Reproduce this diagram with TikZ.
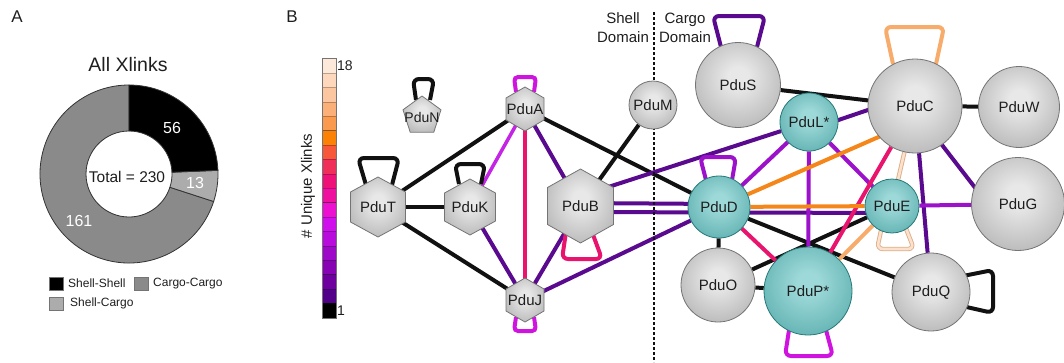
\documentclass[tikz,border=0pt]{standalone}
\usepackage{fontspec}
\setmainfont{Liberation Sans}
\usetikzlibrary{calc,backgrounds}

% link colours (number of unique crosslinks)
\definecolor{lkblack}{HTML}{111111}
\definecolor{lkdark}{HTML}{5A0A8E}
\definecolor{lkviolet}{HTML}{9C12CA}
\definecolor{lklilac}{HTML}{C424E4}
\definecolor{lkmagenta}{HTML}{D014E0}
\definecolor{lkcrimson}{HTML}{E8146E}
\definecolor{lkorange}{HTML}{F5861A}
\definecolor{lklightorange}{HTML}{F7AC6C}
\definecolor{lkpeach}{HTML}{FCE2CE}
\definecolor{lkpeachrim}{HTML}{DDAE88}
% scale bar, 18 down to 1
\definecolor{s18}{HTML}{FDE9DA}
\definecolor{s17}{HTML}{FDD8BD}
\definecolor{s16}{HTML}{FCC6A0}
\definecolor{s15}{HTML}{FBB07A}
\definecolor{s14}{HTML}{FA9A4E}
\definecolor{s13}{HTML}{FB8205}
\definecolor{s12}{HTML}{F8583A}
\definecolor{s11}{HTML}{F02E5A}
\definecolor{s10}{HTML}{EE1278}
\definecolor{s9}{HTML}{F010A0}
\definecolor{s8}{HTML}{EC10D0}
\definecolor{s7}{HTML}{D010EC}
\definecolor{s6}{HTML}{B80CDC}
\definecolor{s5}{HTML}{9E08C8}
\definecolor{s4}{HTML}{8604B4}
\definecolor{s3}{HTML}{6E00A0}
\definecolor{s2}{HTML}{52008A}
\definecolor{s1}{HTML}{000000}
% protein bodies
\definecolor{gb1}{HTML}{E8E8E8}
\definecolor{gb2}{HTML}{8E8E8E}
\definecolor{grim}{HTML}{747474}
\definecolor{tb1}{HTML}{9ED9D9}
\definecolor{tb2}{HTML}{2D9090}
\definecolor{trim}{HTML}{267878}
% donut
\definecolor{ring}{HTML}{333333}
\definecolor{cargocol}{HTML}{8A8A8A}
\definecolor{shellcargocol}{HTML}{ACACAC}
\definecolor{txt}{HTML}{1E1E1E}

\pgfdeclareradialshading{grayball}{\pgfpoint{0bp}{5bp}}{color(0bp)=(gb1); color(6bp)=(gb1); color(52bp)=(gb2); color(75bp)=(gb2)}
\pgfdeclareradialshading{tealball}{\pgfpoint{0bp}{5bp}}{color(0bp)=(tb1); color(6bp)=(tb1); color(52bp)=(tb2); color(75bp)=(tb2)}

\tikzset{
  link/.style={line width=4pt},
  selfloop/.style={line width=4pt, rounded corners=6pt},
  peachlink/.style={draw=lkpeachrim, line width=0.9pt, double=lkpeach, double distance=2.6pt},
  gball/.style={circle, draw=grim, line width=0.8pt, shading=grayball, inner sep=0pt,
                text=txt, font=\fontsize{15}{15}\selectfont},
  tball/.style={gball, draw=trim, shading=tealball},
  hexbody/.style={draw=grim, line width=0.8pt, shading=grayball},
  plabel/.style={inner sep=0pt, text=txt, font=\fontsize{15}{15}\selectfont},
  legendtxt/.style={anchor=west, inner sep=0pt, text=txt, font=\fontsize{12}{12}\selectfont},
  numtxt/.style={text=white, font=\fontsize{16}{16}\selectfont},
}

% hexagon body: centre x, centre y, half width, half height
\newcommand\HexAt[4]{%
  \path[hexbody] ({#1},{#2-#4}) -- ({#1+#3},{#2-0.5*#4}) -- ({#1+#3},{#2+0.5*#4})
    -- ({#1},{#2+#4}) -- ({#1-#3},{#2+0.5*#4}) -- ({#1-#3},{#2-0.5*#4}) -- cycle;}

\begin{document}
\begin{tikzpicture}[x=1pt,y=-1pt]
\useasboundingbox (0,0) rectangle (1064,362);

% ---------------- panel A: donut chart ----------------
\node[text=txt, font=\fontsize{17}{17}\selectfont] (panelA) at (17,17) {A};
\node[text=txt, font=\fontsize{19.5}{20}\selectfont] (title) at (128,65) {All Xlinks};

\begin{scope}[shift={(129,174)}, y=1pt]
  \filldraw[fill=cargocol, draw=ring, line width=0.8pt]
    (-18:89) arc[start angle=-18, end angle=-270, radius=89]
    -- (-270:43) arc[start angle=-270, end angle=-18, radius=43] -- cycle;
  \filldraw[fill=shellcargocol, draw=ring, line width=0.8pt]
    (2.35:89) arc[start angle=2.35, end angle=-18, radius=89]
    -- (-18:43) arc[start angle=-18, end angle=2.35, radius=43] -- cycle;
  \filldraw[fill=black, draw=ring, line width=0.8pt]
    (90:89) arc[start angle=90, end angle=2.35, radius=89]
    -- (2.35:43) arc[start angle=2.35, end angle=90, radius=43] -- cycle;
  \node[numtxt] (n56) at (43,46) {56};
  \node[numtxt] (n13) at (66,-9) {13};
  \node[numtxt] (n161) at (-50,-47) {161};
  \node[text=txt, font=\fontsize{15.5}{16}\selectfont] (total) at (-2,-3) {Total = 230};
\end{scope}

% legend
\filldraw[fill=black, draw=grim, line width=0.6pt] (49,277) rectangle (63,290);
\node[legendtxt] (lgA) at (68,283.5) {Shell-Shell};
\filldraw[fill=cargocol, draw=grim, line width=0.6pt] (134,277) rectangle (148,290);
\node[legendtxt] (lgB) at (153,283.5) {Cargo-Cargo};
\filldraw[fill=shellcargocol, draw=grim, line width=0.6pt] (49,297) rectangle (63,310);
\node[legendtxt] (lgC) at (70,303.5) {Shell-Cargo};

% ---------------- panel B: crosslink network ----------------
\node[text=txt, font=\fontsize{17}{17}\selectfont] (panelB) at (292,17) {B};

% scale bar
\foreach \c [count=\i from 0] in {s18,s17,s16,s15,s14,s13,s12,s11,s10,s9,s8,s7,s6,s5,s4,s3,s2,s1}
  \filldraw[fill=\c, draw=black, draw opacity=0.25, line width=0.5pt]
    (322,{58.6+\i*14.4}) rectangle (336,{58.6+(\i+1)*14.4});
\draw[grim, line width=0.6pt] (322,58.6) rectangle (336,317.8);
\node[anchor=west, inner sep=0pt, text=txt, font=\fontsize{14}{14}\selectfont] (top18) at (337,66) {18};
\node[anchor=west, inner sep=0pt, text=txt, font=\fontsize{14}{14}\selectfont] (bot1) at (337,311) {1};
\node[rotate=90, text=txt, font=\fontsize{15}{15}\selectfont] (barlabel) at (308,186) {\# Unique Xlinks};

% domain divider
\draw[lkblack, line width=1.4pt, dash pattern=on 3pt off 2pt] (654,12) -- (654,362);
\node[align=center, text=txt, font=\fontsize{15}{19}\selectfont] (shelldom) at (623,27.5) {Shell\\Domain};
\node[align=center, text=txt, font=\fontsize{15}{19}\selectfont] (cargodom) at (685,27.5) {Cargo\\Domain};

% shell proteins (hexagons, pentagon)
\HexAt{378}{207}{27.5}{30}
\HexAt{470}{207}{25.5}{28}
\HexAt{525}{109}{19}{22}
\HexAt{525}{300}{19}{22}
\HexAt{580.5}{206}{33}{37}
\path[hexbody] (422,96) -- (441,109.8) -- (433.8,132.2) -- (410.2,132.2) -- (403,109.8) -- cycle;
\node[plabel] (T) at (378,207) {PduT};
\node[plabel] (K) at (470,207) {PduK};
\node[plabel] (A) at (525,109) {PduA};
\node[plabel] (J) at (525,300) {PduJ};
\node[plabel] (B) at (580.5,206) {PduB};
\node[plabel, font=\fontsize{14}{14}\selectfont] (N) at (422,117) {PduN};

% shell / cargo proteins (spheres)
\node[gball, minimum size=48pt] (M) at (653,105) {PduM};
\node[gball, minimum size=85pt] (S) at (738,85) {PduS};
\node[gball, minimum size=94pt] (C) at (915,106) {PduC};
\node[gball, minimum size=81pt] (W) at (1019,107) {PduW};
\node[gball, minimum size=93pt] (G) at (1018,204) {PduG};
\node[gball, minimum size=74pt] (O) at (718,285) {PduO};
\node[gball, minimum size=78pt] (Q) at (931,292) {PduQ};
\node[tball, minimum size=58pt] (L) at (809,122) {PduL*};
\node[tball, minimum size=62pt] (D) at (719,207) {PduD};
\node[tball, minimum size=54pt] (E) at (892,206) {PduE};
\node[tball, minimum size=88pt] (P) at (808,291) {PduP*};

% links, drawn beneath the proteins
\begin{pgfonlayer}{background}
  % single-count links
  \draw[link, lkblack] (T) -- (A);
  \draw[link, lkblack] (T) -- (K);
  \draw[link, lkblack] (T) -- (J);
  \draw[link, lkblack] (A) -- (D);
  \draw[link, lkblack] (B) -- (M);
  \draw[link, lkblack] (S) -- (C);
  \draw[link, lkblack] (C) -- (W);
  \draw[link, lkblack] (D) -- (O);
  \draw[link, lkblack] (D) -- (Q);
  \draw[link, lkblack] (E) -- (O);
  \draw[link, lkblack] (O) -- (P);
  % low-count links
  \draw[link, lkdark] (K) -- (J);
  \draw[link, lkdark] (A) -- (B);
  \draw[link, lkdark] (B) -- (J);
  \draw[link, lkdark] (J) -- (D);
  \draw[link, lkdark] ($(B)+(0,-3)$) -- ($(D)+(0,-3)$);
  \draw[link, lkdark] ($(B)+(0,6)$) -- ($(E)+(0,7)$);
  \draw[link, lkdark] ($(B)+(0,-10)$) -- (L);
  \draw[link, lkdark] ($(L)+(0,8)$) -- ($(C)+(0,-12)$);
  \draw[link, lkdark] (C) -- (Q);
  \draw[link, lkdark] ($(C)+(0,4)$) -- ($(G)+(-18,16)$);
  % mid-count links
  \draw[link, lklilac, line width=3.5pt] (K) -- (A);
  \draw[link, lkviolet] (D) -- (L);
  \draw[link, lkviolet] (L) -- (P);
  \draw[link, lkviolet] (L) -- (E);
  \draw[link, lkviolet] (E) -- (G);
  \draw[link, lkcrimson] (A) -- (J);
  \draw[link, lkcrimson] (D) -- (P);
  \draw[link, lkcrimson] (C) -- (P);
  % high-count links
  \draw[link, lkorange] (D) -- ($(C)+(0,15)$);
  \draw[link, lkorange] (D) -- (E);
  \draw[link, lklightorange] (E) -- (P);
  \draw[peachlink] (C) -- (E);
  % self links
  \draw[selfloop, lkblack] ($(N)+(-6,-17)$) -- ($(N)+(-9,-38)$) -- ($(N)+(12,-38)$) -- ($(N)+(8,-17)$);
  \draw[selfloop, lkblack] ($(T)+(-12,-22)$) -- ($(T)+(-20,-49)$) -- ($(T)+(21,-49)$) -- ($(T)+(14,-22)$);
  \draw[selfloop, lkblack] ($(K)+(-11,-23)$) -- ($(K)+(-15,-43)$) -- ($(K)+(15,-43)$) -- ($(K)+(11,-23)$);
  \draw[selfloop, lkmagenta, rounded corners=4pt] ($(A)+(-9,-17)$) -- ($(A)+(-11,-32)$) -- ($(A)+(11,-32)$) -- ($(A)+(9,-17)$);
  \draw[selfloop, lkmagenta, rounded corners=4pt] ($(J)+(-9,17)$) -- ($(J)+(-11,31)$) -- ($(J)+(11,31)$) -- ($(J)+(9,17)$);
  \draw[selfloop, lkcrimson] ($(B)+(-14.5,26)$) -- ($(B)+(-18.5,53)$) -- ($(B)+(21.5,53)$) -- ($(B)+(11.5,26)$);
  \draw[selfloop, lkdark] ($(S)+(-17,-38)$) -- ($(S)+(-25,-69)$) -- ($(S)+(27,-69)$) -- ($(S)+(19,-38)$);
  \draw[selfloop, lklightorange] ($(C)+(-22,-42)$) -- ($(C)+(-30,-79)$) -- ($(C)+(29,-79)$) -- ($(C)+(21,-42)$);
  \draw[selfloop, lkviolet] ($(D)+(-13,-27)$) -- ($(D)+(-19,-50)$) -- ($(D)+(17,-50)$) -- ($(D)+(13,-27)$);
  \draw[peachlink, rounded corners=6pt] ($(E)+(-10,20)$) -- ($(E)+(-15,43)$) -- ($(E)+(22,43)$) -- ($(E)+(13,20)$);
  \draw[selfloop, lkmagenta] ($(P)+(-19,39)$) -- ($(P)+(-23,65)$) -- ($(P)+(25,65)$) -- ($(P)+(18,39)$);
  \draw[selfloop, lkblack] ($(Q)+(32,-16)$) -- ($(Q)+(62,-22)$) -- ($(Q)+(62,21)$) -- ($(Q)+(31,14)$);
\end{pgfonlayer}
\end{tikzpicture}
\end{document}
